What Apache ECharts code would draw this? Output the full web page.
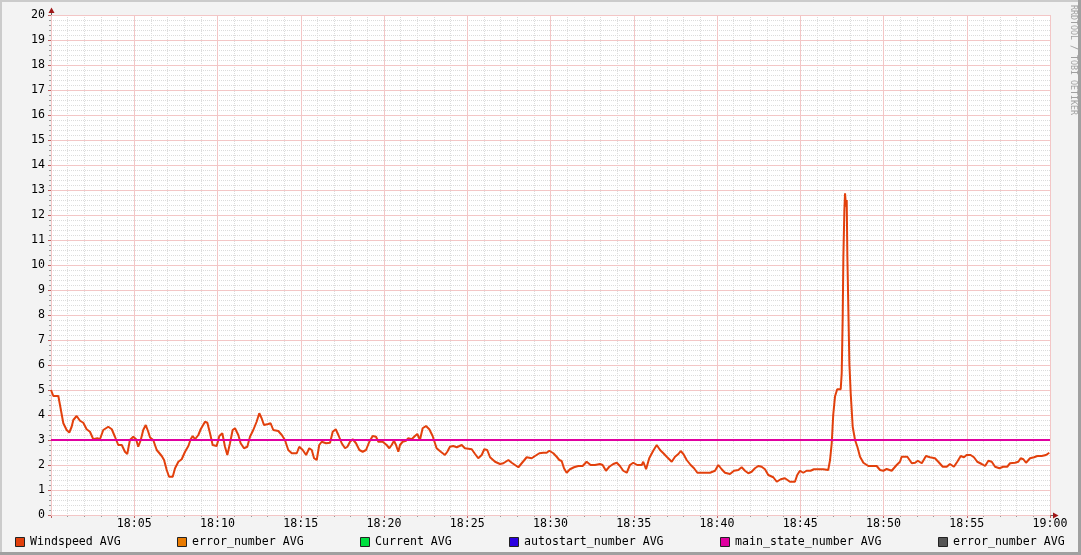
<!DOCTYPE html>
<html><head><meta charset="utf-8">
<script src="https://cdn.jsdelivr.net/npm/echarts@6/dist/echarts.min.js"></script>
<style>html,body{margin:0;padding:0;background:#F3F3F3}#c{width:1081px;height:555px}</style>
</head><body><div id="c"></div>
<script>
// minutes after 18:00, value
const windspeedAvg = [
[0,5.0],[0.14,4.76],[0.44,4.76],[0.54,4.4],[0.74,3.67],[0.94,3.4],[1.10,3.3],[1.24,3.53],[1.34,3.8],[1.54,3.96],
[1.74,3.77],[1.94,3.69],[2.14,3.43],[2.34,3.33],[2.54,3.03],[2.78,3.07],[2.94,3.03],[3.14,3.4],[3.44,3.53],[3.65,3.43],
[3.84,3.13],[4.04,2.8],[4.25,2.8],[4.44,2.53],[4.58,2.44],[4.74,3.0],[4.94,3.13],[5.11,3.03],[5.24,2.73],[5.39,3.0],
[5.54,3.4],[5.69,3.6],[5.84,3.33],[5.95,3.1],[6.14,3.0],[6.35,2.6],[6.65,2.36],[6.79,2.2],[6.95,1.8],[7.09,1.53],
[7.31,1.53],[7.45,1.87],[7.65,2.13],[7.85,2.23],[8.05,2.53],[8.25,2.76],[8.39,3.03],[8.51,3.16],[8.65,3.03],[8.85,3.2],
[8.99,3.43],[9.11,3.37],[9.25,3.73],[9.39,3.69],[9.55,3.27],[9.71,2.8],[9.95,2.76],[10.11,3.16],[10.29,3.27],[10.45,2.73],
[10.59,2.4],[10.75,2.87],[10.91,3.4],[11.05,3.47],[11.25,3.2],[11.39,2.87],[11.59,2.67],[11.79,2.73],[11.95,3.13],[12.15,3.4],
[12.35,3.73],[12.51,4.07],[12.65,3.87],[12.79,3.6],[13.05,3.64],[13.19,3.67],[13.35,3.4],[13.65,3.36],[13.86,3.2],[14.05,3.0],
[14.25,2.6],[14.46,2.47],[14.76,2.47],[14.91,2.73],[15.12,2.6],[15.32,2.4],[15.51,2.67],[15.66,2.6],[15.80,2.27],[15.96,2.2],
[16.11,2.8],[16.26,2.93],[16.52,2.87],[16.76,2.89],[16.92,3.33],[17.10,3.43],[17.26,3.2],[17.46,2.87],[17.66,2.67],[17.80,2.73],
[17.96,2.93],[18.12,3.03],[18.32,2.87],[18.52,2.6],[18.72,2.53],[18.92,2.6],[19.12,2.93],[19.32,3.16],[19.52,3.13],[19.66,2.93],
[19.92,2.93],[20.16,2.8],[20.32,2.67],[20.46,2.8],[20.60,2.97],[20.72,2.8],[20.86,2.53],[20.96,2.8],[21.12,2.93],[21.32,2.97],
[21.46,3.07],[21.66,3.03],[21.86,3.16],[22.00,3.24],[22.16,3.0],[22.32,3.47],[22.52,3.56],[22.72,3.43],[22.92,3.16],[23.16,2.67],
[23.41,2.53],[23.66,2.4],[23.80,2.53],[23.96,2.73],[24.16,2.76],[24.37,2.71],[24.67,2.8],[24.86,2.67],[25.27,2.63],[25.47,2.44],
[25.66,2.27],[25.87,2.4],[26.02,2.63],[26.20,2.6],[26.37,2.31],[26.67,2.13],[26.97,2.04],[27.17,2.07],[27.47,2.2],[27.67,2.09],
[27.87,2.0],[28.07,1.91],[28.27,2.07],[28.57,2.31],[28.87,2.27],[29.07,2.36],[29.33,2.47],[29.57,2.49],[29.77,2.49],[29.93,2.57],
[30.17,2.47],[30.37,2.33],[30.53,2.2],[30.67,2.16],[30.81,1.87],[30.97,1.69],[31.17,1.83],[31.41,1.91],[31.67,1.96],[31.93,1.96],
[32.17,2.13],[32.41,2.0],[32.67,2.0],[32.97,2.04],[33.13,2.0],[33.33,1.77],[33.53,1.93],[33.77,2.04],[33.98,2.09],[34.17,1.96],
[34.37,1.77],[34.58,1.69],[34.77,2.0],[34.97,2.09],[35.21,2.0],[35.48,2.0],[35.57,2.13],[35.74,1.83],[35.93,2.27],[36.17,2.57],
[36.38,2.8],[36.58,2.6],[36.78,2.47],[36.98,2.33],[37.28,2.13],[37.48,2.33],[37.68,2.44],[37.82,2.56],[37.98,2.44],[38.18,2.2],
[38.42,2.0],[38.62,1.87],[38.82,1.69],[39.18,1.69],[39.58,1.69],[39.88,1.77],[40.08,2.0],[40.28,1.83],[40.48,1.69],[40.78,1.64],
[41.02,1.77],[41.28,1.8],[41.48,1.91],[41.68,1.77],[41.88,1.67],[42.08,1.73],[42.28,1.87],[42.48,1.96],[42.68,1.93],[42.88,1.83],
[43.08,1.6],[43.38,1.51],[43.59,1.33],[43.83,1.43],[44.08,1.47],[44.38,1.33],[44.68,1.33],[44.82,1.6],[44.98,1.77],[45.18,1.69],
[45.38,1.77],[45.62,1.77],[45.82,1.83],[46.08,1.83],[46.38,1.83],[46.68,1.8],[46.79,2.2],[46.89,2.87],[46.98,4.0],[47.09,4.75],
[47.22,5.03],[47.43,5.03],[47.49,5.67],[47.55,7.93],[47.59,10.33],[47.65,12.2],[47.69,12.87],[47.75,12.33],[47.79,12.6],[47.83,10.33],
[47.89,10.33],[47.95,6.07],[48.03,4.87],[48.15,3.53],[48.29,3.0],[48.43,2.73],[48.59,2.33],[48.79,2.09],[49.09,1.96],[49.59,1.96],
[49.79,1.8],[49.99,1.77],[50.19,1.84],[50.49,1.77],[50.79,2.0],[50.99,2.13],[51.09,2.33],[51.43,2.33],[51.70,2.07],[51.90,2.09],
[52.06,2.17],[52.30,2.07],[52.55,2.36],[52.79,2.31],[53.09,2.27],[53.29,2.13],[53.56,1.93],[53.80,1.93],[53.99,2.04],[54.23,1.93],
[54.43,2.13],[54.64,2.36],[54.83,2.31],[54.99,2.4],[55.23,2.4],[55.43,2.31],[55.63,2.13],[55.90,2.04],[56.10,1.96],[56.30,2.17],
[56.50,2.13],[56.70,1.93],[56.96,1.87],[57.19,1.93],[57.43,1.93],[57.60,2.07],[57.90,2.09],[58.10,2.13],[58.24,2.27],[58.40,2.23],
[58.56,2.09],[58.80,2.27],[59.04,2.31],[59.24,2.36],[59.50,2.36],[59.76,2.4],[59.96,2.49]
];
const mainStateAvg = [[0,3],[60,3]];
const xTickLabels = ['18:00','18:05','18:10','18:15','18:20','18:25','18:30','18:35','18:40','18:45','18:50','18:55','19:00'];
const legendNames = ['Windspeed AVG','error_number AVG','Current AVG','autostart_number AVG','main_state_number AVG','error_number AVG'];
const legendColors = ['#E2400C','#E87A00','#00E040','#2A00E0','#E000A0','#555555'];

// layout constants
const legendX = [15,177,360,509,720,938];
const FONT = 'DejaVu Sans Mono';

const chart = echarts.init(document.getElementById('c'), null, {renderer:'canvas'});

const graphics = [
  {type:'rect', shape:{x:0,y:0,width:1081,height:2}, style:{fill:'#CBCBCB'}, silent:true},
  {type:'rect', shape:{x:0,y:0,width:2,height:555}, style:{fill:'#CBCBCB'}, silent:true},
  {type:'rect', shape:{x:0,y:552,width:1081,height:3}, style:{fill:'#A0A0A0'}, silent:true},
  {type:'rect', shape:{x:1078,y:0,width:3,height:555}, style:{fill:'#A0A0A0'}, silent:true},
  {type:'line', shape:{x1:51.5,y1:15,x2:51.5,y2:10}, style:{stroke:'#606060',lineWidth:1}, silent:true},
  {type:'line', shape:{x1:1050,y1:515.5,x2:1055,y2:515.5}, style:{stroke:'#606060',lineWidth:1}, silent:true},
  {type:'polygon', shape:{points:[[48.5,13],[54.5,13],[51.5,7.5]]}, style:{fill:'#A01818'}, silent:true},
  {type:'polygon', shape:{points:[[1053,512.5],[1053,518.5],[1058.5,515.5]]}, style:{fill:'#A01818'}, silent:true},
  {type:'text', x:1073, y:5, rotation:-Math.PI/2, silent:true,
    style:{text:'RRDTOOL / TOBI OETIKER', fontFamily:FONT, fontSize:8.3, fill:'#A0A0A0', align:'left', verticalAlign:'middle'}}
];
legendNames.forEach((n,i)=>{
  graphics.push({type:'rect', shape:{x:legendX[i]+0.5,y:537.5,width:9,height:9},
    style:{fill:legendColors[i], stroke:'#222', lineWidth:1}, silent:true});
  graphics.push({type:'text', x:legendX[i]+15, y:541.5, silent:true,
    style:{text:n, fontFamily:FONT, fontSize:11.6, fill:'#000', align:'left', verticalAlign:'middle'}});
});

const majorGrid = {show:true, lineStyle:{color:'#F3C6C6', width:1, type:'solid'}};
const minorGrid = {show:true, lineStyle:{color:'#DCDCDC', width:1, type:[1,1]}};
const hidden = {axisLine:{show:false}, axisTick:{show:false}, axisLabel:{show:false}, minorTick:{show:false}, minorSplitLine:{show:false}};

chart.setOption({
  animation:false,
  backgroundColor:'#F3F3F3',
  grid:{left:51, right:31, top:15, bottom:40, show:true, backgroundColor:'#FFFFFF', borderWidth:0, containLabel:false},
  xAxis:[{
    type:'value', min:0, max:60, interval:5, z:0,
    axisLine:{show:true, onZero:false, lineStyle:{color:'#606060', width:1}},
    axisTick:{show:true, length:3, lineStyle:{color:'#C06060'}},
    minorTick:{show:true, splitNumber:5, length:2, lineStyle:{color:'#999999'}},
    axisLabel:{margin:2, color:'#000', fontFamily:FONT, fontSize:11.6, lineHeight:14,
      formatter:(v)=> v===0 ? '' : xTickLabels[Math.round(v/5)]},
    splitLine:{show:false}, minorSplitLine:minorGrid
  }, Object.assign({type:'value', min:0, max:60, interval:5, position:'top', z:1, splitLine:majorGrid}, hidden)],
  yAxis:[{
    type:'value', min:0, max:20, interval:1, z:0,
    axisLine:{show:true, onZero:false, lineStyle:{color:'#606060', width:1}},
    axisTick:{show:true, length:3, lineStyle:{color:'#C06060'}},
    minorTick:{show:true, splitNumber:5, length:2, lineStyle:{color:'#999999'}},
    axisLabel:{margin:6, color:'#000', fontFamily:FONT, fontSize:11.6},
    splitLine:{show:false}, minorSplitLine:minorGrid
  }, Object.assign({type:'value', min:0, max:20, interval:1, position:'right', z:1, splitLine:majorGrid}, hidden)],
  series:[
    {type:'line', name:'Windspeed AVG', data:windspeedAvg, symbol:'none', showSymbol:false,
      lineStyle:{color:legendColors[0], width:2}, z:3, silent:true},
    {type:'line', name:'main_state_number AVG', data:mainStateAvg, symbol:'none', showSymbol:false,
      lineStyle:{color:legendColors[4], width:2}, z:4, silent:true}
  ],
  graphic:graphics
});
</script>
</body></html>
